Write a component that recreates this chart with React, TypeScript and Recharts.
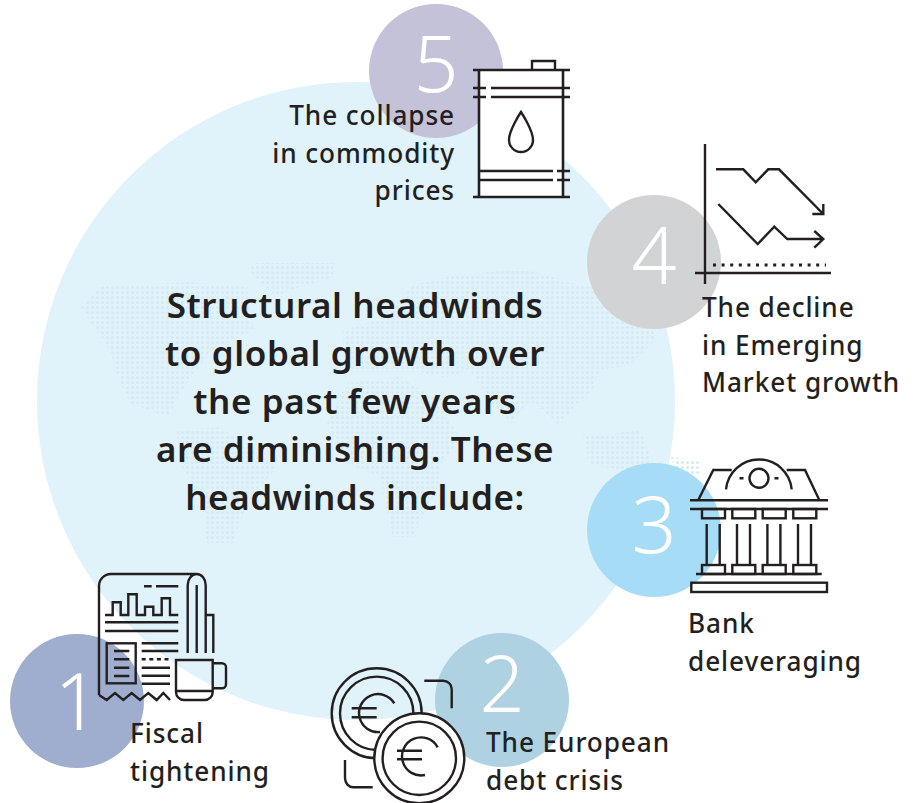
import { ScatterChart, Scatter, XAxis, YAxis } from 'recharts';

// layout space of the picture, the axes are hidden
const xDomain = [0, 914];
const yDomain = [0, 803];

const stepNumbers = ['1', '2', '3', '4', '5'];
const stepX = [77, 502, 654, 654, 436];
const stepY = [701, 700, 530, 262, 71];
const stepLabels = [
  ['Fiscal', 'tightening'],
  ['The European', 'debt crisis'],
  ['Bank', 'deleveraging'],
  ['The decline', 'in Emerging', 'Market growth'],
  ['The collapse', 'in commodity', 'prices'],
];
const labelX = [130, 486, 688, 702, 455];
const labelY = [743, 752, 633, 317, 125];
const titleLines = [
  'Structural headwinds',
  'to global growth over',
  'the past few years',
  'are diminishing. These',
  'headwinds include:',
];

const stepColors = ['#9fadcf', '#aed2e2', '#a6dcf6', '#d2d3d5', '#c4c2d9'];
const numberShift = [29, 12, 23, 22, 21];
const labelAnchors = ['start', 'start', 'start', 'start', 'end'];
const INK = '#231f20';
const FONT = '"Noto Sans", sans-serif';

const steps = stepNumbers.map((n, i) => ({ n, x: stepX[i], y: stepY[i], color: stepColors[i], dy: numberShift[i], i }));
const labels = stepLabels.map((lines, i) => ({ lines, x: labelX[i], y: labelY[i], anchor: labelAnchors[i] }));

const line = { fill: 'none', stroke: INK, strokeWidth: 2.4 };

function PaperIcon() {
  return (
    <g {...line}>
      <path d="M99 695V586a12 12 0 0 1 12-12H196.7a9 11 0 0 1 9 11V653M187.7 653V585a9 11 0 0 1 9-11M196.7 585V653M205.7 615H213.3V653" />
      <path d="M99 695L106.7 700L115 693L123.3 700L131.7 693L140 700L148.3 693L156.7 700L163.3 693L170 700" />
      <path d="M144 586.3H151.7M156 586.3H178.3" />
      <path d="M105 615H112.7V602.3H120.7V615H128.3V594.3H136.7V615H145V606.7H153.3V615H161.7V598.3H170V615H178.3" />
      <path d="M105 622.3H178.3M105 631H178.3" />
      <rect x={106.7} y={643.3} width={29} height={40} />
      <path d="M114 651H129.3M114 659.3H129.3M114 667.7H129.3M114 676H129.3" />
      <path d="M141.7 643.3H178.3M141.7 651H178.3M141.7 667.7H170M141.7 675.7H170M141.7 683.7H170" />
      <path d="M141.7 659.3H170" strokeDasharray="4 3.6" />
      <path d="M176 660H212.7V692a8 8 0 0 1-8 8H184a8 8 0 0 1-8-8Z" />
      <path d="M176 691H212.7M212.7 663.3H222a4 4 0 0 1 4 4V684.300a4 4 0 0 1-4 4H212.7" />
    </g>
  );
}

function CoinsIcon() {
  return (
    <g {...line}>
      <circle cx={376.7} cy={713.3} r={45} />
      <circle cx={376.7} cy={713.3} r={36.7} />
      <path d="M394.300 703.300A19 19 0 1 0 380 732M351.700 708.300H376.700M351.700 717.300H376.700" />
      <circle cx={419.3} cy={758.3} r={45} fill="#fff" />
      <circle cx={419.3} cy={758.3} r={36.7} />
      <path d="M437.700 747.300A19 19 0 1 0 425 775M397 750.700H422M397 759.300H422" />
      <path d="M424.300 680.700H443a8.700 8.300 0 0 1 8.700 8.300V708.300M345 760V778a8.300 9.300 0 0 0 8.300 9.300H372.700" />
    </g>
  );
}

function BankIcon() {
  const capitals = [702, 732.3, 762.7, 793.3];
  return (
    <g {...line}>
      <path d="M690 500.300H828M690 509H828" />
      <path d="M698.300 500L713.300 470H731.700M786.700 470H805L819.300 500" />
      <path d="M726 489.300A33 33 0 0 1 791.700 489.300" />
      <circle cx={759} cy={478.3} r={9.5} />
      <path d="M739.500 478.300H743.500M774.500 478.300H778.500" />
      {capitals.map((c) => (
        <g key={c}>
          <rect x={c} y={509} width={23} height={9.3} />
          <path d={`M${c + 4.7} 524V565M${c + 17.7} 524V565`} />
          <rect x={c} y={565} width={23} height={9} />
        </g>
      ))}
      <path d="M696 574H821.700" />
      <rect x={691.3} y={582.7} width={135.7} height={9.3} />
    </g>
  );
}

function TrendIcon() {
  return (
    <g {...line}>
      <path d="M705 144V284M695 273H831" />
      <path d="M713 265H826" strokeDasharray="3 5.6" strokeWidth={3} />
      <path d="M716 169.300H743.300L755.700 182.300L768.300 169.300H779L823.300 214M823.300 204V214H812.300" />
      <path d="M718.300 204L757.700 244L774.300 226.700L787.300 239H823.300M814.300 231L823.300 239L814.300 247.700" />
    </g>
  );
}

function BarrelIcon() {
  return (
    <g {...line}>
      <rect x={479} y={70} width={84} height={127} fill="#fff" stroke="none" />
      <path d="M473 70H570M473 197H570M479 70V197M563 70V197" strokeWidth={2.6} />
      <path d="M532 70V61H555V70" />
      <path d="M473 88H486M491 88H570M473 97H486M491 97H570" />
      <path d="M479 171H553M557 171H570M479 180H553M557 180H570" />
      <path d="M521 112C521 112 509 130 509 140A12 12 0 0 0 533 140C533 130 521 112 521 112Z" />
    </g>
  );
}

const icons = [PaperIcon, CoinsIcon, BankIcon, TrendIcon, BarrelIcon];

// rough continents, only there to carry the dot pattern
const WORLD =
  'M80 307L100 287L187 282L247 287L253 330L213 350L187 383L167 417L130 403L120 383L110 350Z' +
  'M247 270L253 263L333 263L333 277L283 293L277 297Z' +
  'M177 430L220 427L277 467L247 503L233 543L207 543L203 503L180 463Z' +
  'M327 423L347 383L400 377L433 397L460 437L440 467L440 483L413 537L393 537L380 477L347 463Z' +
  'M343 330L387 317L413 285L447 277L520 268L580 285L645 298L656 340L630 365L600 370L590 395L575 405L560 425L530 400L510 425L490 400L470 370L445 378L420 372L345 372Z' +
  'M583 437L640 430L653 463L625 470L590 465Z' +
  'M670 457L700 460L700 477L680 475Z';

function App() {
  return (
    <div style={{ position: 'absolute', left: 0, top: 0, width: 914, height: 803, background: '#fff' }}>
      <ScatterChart width={914} height={803} margin={{ top: 0, right: 0, bottom: 0, left: 0 }}>
        <defs>
          <pattern id="dots" width={5} height={5} patternUnits="userSpaceOnUse">
            <circle cx={2.5} cy={2.5} r={1.5} fill="#d6eaf3" />
          </pattern>
        </defs>
        <XAxis type="number" dataKey="x" domain={xDomain} hide />
        <YAxis type="number" dataKey="y" domain={yDomain} reversed hide />

        <Scatter
          data={[{ x: 356, y: 401 }]}
          isAnimationActive={false}
          shape={(p: any) => <circle cx={p.cx} cy={p.cy} r={319} fill="#e0f3fb" />}
        />
        <Scatter
          data={[{ x: 0, y: 0 }]}
          isAnimationActive={false}
          shape={(p: any) => <path transform={`translate(${p.cx} ${p.cy})`} d={WORLD} fill="url(#dots)" />}
        />
        <Scatter
          data={steps}
          isAnimationActive={false}
          shape={(p: any) => (
            <g>
              <circle cx={p.cx} cy={p.cy} r={67} fill={p.payload.color} />
              <text x={p.cx} y={p.cy + p.payload.dy} textAnchor="middle" fontFamily={FONT} fontWeight={300} fontSize={79} fill="#fff">
                {p.payload.n}
              </text>
            </g>
          )}
        />
        <Scatter
          data={steps}
          isAnimationActive={false}
          shape={(p: any) => {
            const Icon = icons[p.payload.i];
            return (
              <g transform={`translate(${p.cx - p.payload.x} ${p.cy - p.payload.y})`}>
                <Icon />
              </g>
            );
          }}
        />
        <Scatter
          data={labels}
          isAnimationActive={false}
          shape={(p: any) => (
            <text textAnchor={p.payload.anchor} fontFamily={FONT} fontWeight={500} fontSize={26.2} letterSpacing={0.9} fill={INK}>
              {p.payload.lines.map((t: string, i: number) => (
                <tspan key={t} x={p.cx} y={p.cy + i * 37.6}>{t}</tspan>
              ))}
            </text>
          )}
        />
        <Scatter
          data={[{ x: 355, y: 318 }]}
          isAnimationActive={false}
          shape={(p: any) => (
            <text textAnchor="middle" fontFamily={FONT} fontWeight={600} fontSize={35} letterSpacing={0.6} fill={INK}>
              {titleLines.map((t, i) => (
                <tspan key={t} x={p.cx} y={p.cy + i * 48}>{t}</tspan>
              ))}
            </text>
          )}
        />
      </ScatterChart>
    </div>
  );
}

export default App;
